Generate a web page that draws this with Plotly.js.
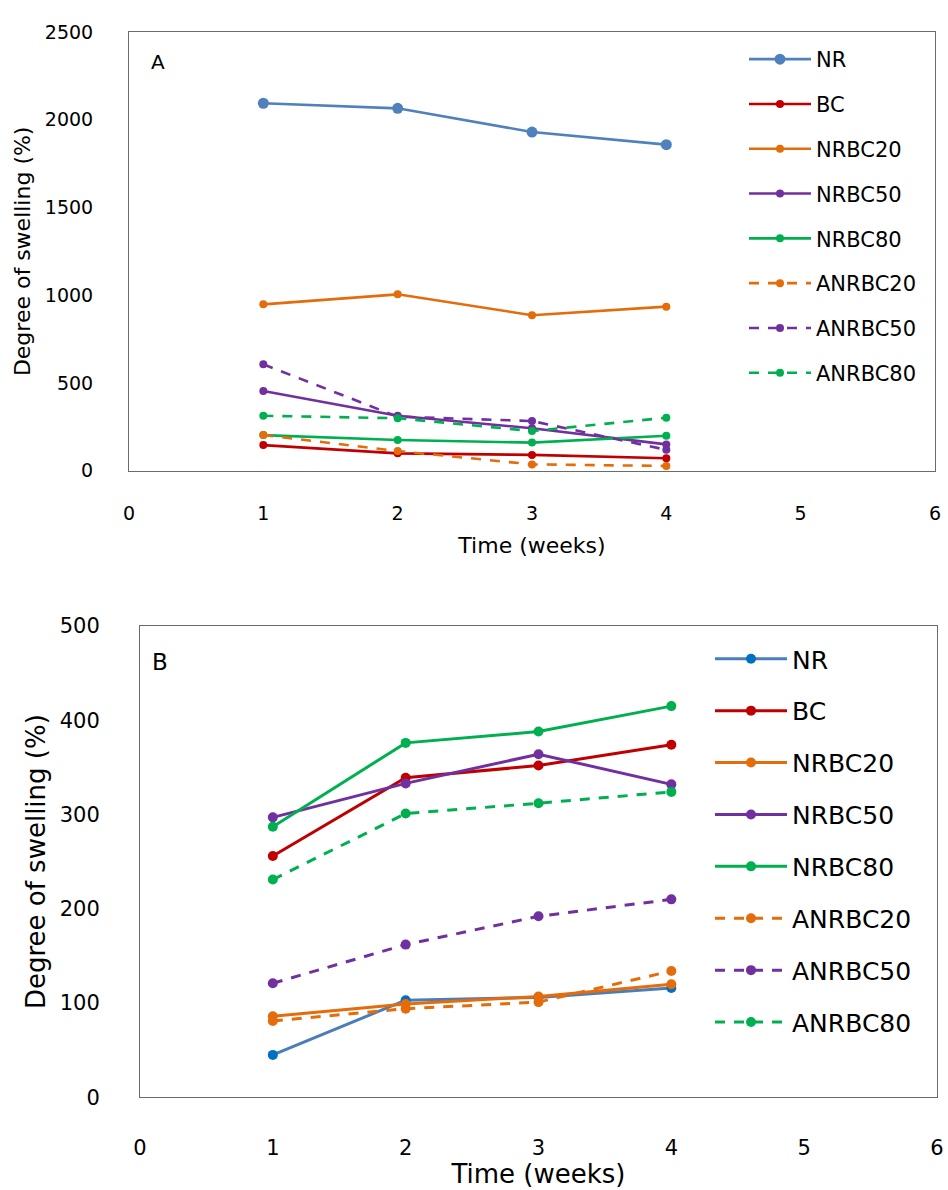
<!DOCTYPE html>
<html>
<head>
<meta charset="utf-8">
<script src="https://cdn.plot.ly/plotly-3.0.1.min.js"></script>
<style>html,body{margin:0;padding:0;background:#fff;}#chart{width:948px;height:1190px;}</style>
</head>
<body>
<div id="chart"></div>
<script>
// ---- data ----
var weeks = [1, 2, 3, 4];
var seriesNames = ["NR", "BC", "NRBC20", "NRBC50", "NRBC80", "ANRBC20", "ANRBC50", "ANRBC80"];

// Panel A
var A_NR      = [2094, 2065, 1930, 1858];
var A_BC      = [146, 99, 90, 71];
var A_NRBC20  = [948, 1005, 886, 935];
var A_NRBC50  = [454, 313, 242, 150];
var A_NRBC80  = [203, 175, 160, 199];
var A_ANRBC20 = [203, 112, 36, 27];
var A_ANRBC50 = [606, 308, 283, 119];
var A_ANRBC80 = [313, 299, 226, 302];

// Panel B
var B_NR      = [45, 103, 106, 116];
var B_BC      = [256, 339, 352, 374];
var B_NRBC20  = [86, 99, 107, 120];
var B_NRBC50  = [297, 333, 364, 332];
var B_NRBC80  = [287, 376, 388, 415];
var B_ANRBC20 = [81, 94, 101, 134];
var B_ANRBC50 = [121, 162, 192, 210];
var B_ANRBC80 = [231, 301, 312, 324];

var xTickVals = [0, 1, 2, 3, 4, 5, 6];
var yTickValsA = [0, 500, 1000, 1500, 2000, 2500];
var yTickValsB = [0, 100, 200, 300, 400, 500];

// ---- styles ----
var FONT = "DejaVu Sans, Verdana, sans-serif";
var colors = {
  NR: "#4F81BD", NRB_marker: "#0070C0", BC: "#C00000", OR: "#E46C0A", PU: "#7030A0", GR: "#00B050"
};
var dashPat = "10px,9px";

var A_vals = [A_NR, A_BC, A_NRBC20, A_NRBC50, A_NRBC80, A_ANRBC20, A_ANRBC50, A_ANRBC80];
var B_vals = [B_NR, B_BC, B_NRBC20, B_NRBC50, B_NRBC80, B_ANRBC20, B_ANRBC50, B_ANRBC80];
var lineCols = [colors.NR, colors.BC, colors.OR, colors.PU, colors.GR, colors.OR, colors.PU, colors.GR];
var dashes = ["solid", "solid", "solid", "solid", "solid", dashPat, dashPat, dashPat];

var traces = [];
for (var i = 0; i < seriesNames.length; i++) {
  traces.push({
    x: weeks, y: A_vals[i], name: seriesNames[i], type: "scatter", mode: "lines+markers",
    xaxis: "x", yaxis: "y", legend: "legend", legendgroup: "a" + i,
    line: {color: lineCols[i], width: 2.6, dash: dashes[i]},
    marker: {color: lineCols[i], size: i === 0 ? 11 : 8}
  });
}
for (var j = 0; j < seriesNames.length; j++) {
  traces.push({
    x: weeks, y: B_vals[j], name: seriesNames[j], type: "scatter", mode: "lines+markers",
    xaxis: "x2", yaxis: "y2", legend: "legend2", legendgroup: "b" + j,
    line: {color: j === 0 ? "#4A7EBB" : lineCols[j], width: 3, dash: dashes[j]},
    marker: {color: j === 0 ? colors.NRB_marker : lineCols[j], size: 10}
  });
}

var W = 948, H = 1190;
function px(x){ return x / W; }
function py(y){ return 1 - y / H; }

var axisCommon = {
  showgrid: false, zeroline: false, showline: true, mirror: true,
  linecolor: "#6b6b6b", linewidth: 1, ticks: "", fixedrange: true
};

var layout = {
  width: W, height: H,
  margin: {l: 0, r: 0, t: 0, b: 0},
  paper_bgcolor: "#ffffff", plot_bgcolor: "#ffffff",
  font: {family: FONT, color: "#000000"},
  showlegend: true,
  xaxis: Object.assign({}, axisCommon, {
    domain: [px(129), px(935)], anchor: "y", range: [0, 6],
    tickvals: xTickVals, ticklabelstandoff: 25,
    tickfont: {size: 19, family: FONT},
    title: {text: "Time (weeks)", font: {size: 22, family: FONT}, standoff: 15}
  }),
  yaxis: Object.assign({}, axisCommon, {
    domain: [py(470.7), py(32)], anchor: "x", range: [0, 2500],
    tickvals: yTickValsA, ticklabelstandoff: 31,
    tickfont: {size: 19, family: FONT},
    title: {text: "Degree of swelling (%)", font: {size: 22, family: FONT}, standoff: 8}
  }),
  xaxis2: Object.assign({}, axisCommon, {
    domain: [px(140), px(937)], anchor: "y2", range: [0, 6],
    tickvals: xTickVals, ticklabelstandoff: 31,
    tickfont: {size: 21, family: FONT},
    title: {text: "Time (weeks)", font: {size: 26, family: FONT}, standoff: 4}
  }),
  yaxis2: Object.assign({}, axisCommon, {
    domain: [py(1097.3), py(626)], anchor: "x2", range: [0, 500],
    tickvals: yTickValsB, ticklabelstandoff: 35,
    tickfont: {size: 21, family: FONT},
    title: {text: "Degree of swelling (%)", font: {size: 26, family: FONT}, standoff: 6}
  }),
  legend: {
    x: px(744), y: py(39), xanchor: "left", yanchor: "top",
    bgcolor: "rgba(0,0,0,0)", borderwidth: 0, itemwidth: 62,
    font: {size: 21, family: FONT}, tracegroupgap: 14.5, itemclick: false, itemdoubleclick: false
  },
  legend2: {
    x: px(710), y: py(636), xanchor: "left", yanchor: "top",
    bgcolor: "rgba(0,0,0,0)", borderwidth: 0, itemwidth: 72,
    font: {size: 25, family: FONT}, tracegroupgap: 16.4, itemclick: false, itemdoubleclick: false
  },
  annotations: [
    {text: "A", xref: "paper", yref: "paper", x: px(149), y: py(62), xanchor: "left", yanchor: "middle",
     showarrow: false, font: {size: 20, family: FONT}},
    {text: "B", xref: "paper", yref: "paper", x: px(150), y: py(662), xanchor: "left", yanchor: "middle",
     showarrow: false, font: {size: 23, family: FONT}}
  ]
};

Plotly.newPlot("chart", traces, layout, {displayModeBar: false, staticPlot: true});
</script>
</body>
</html>
